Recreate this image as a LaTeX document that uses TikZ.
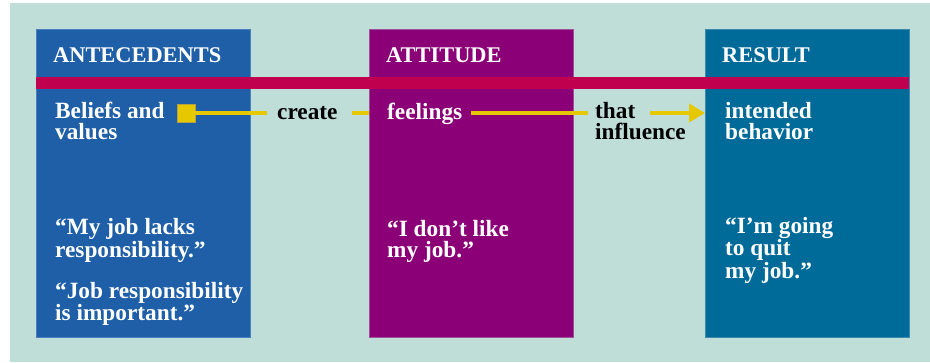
\documentclass[tikz,border=0pt]{standalone}
\usepackage{fontspec}
\setmainfont{Liberation Serif}
\usetikzlibrary{arrows.meta}
\definecolor{bg}{HTML}{C0DED8}
\definecolor{antec}{HTML}{1E5FA8}
\definecolor{antecedge}{HTML}{4A80C0}
\definecolor{attit}{HTML}{8C0077}
\definecolor{attitedge}{HTML}{A0509A}
\definecolor{resul}{HTML}{006A99}
\definecolor{resuledge}{HTML}{3A8AB0}
\definecolor{redbar}{HTML}{C0004E}
\definecolor{yel}{HTML}{E6C800}
\definecolor{yeledge}{HTML}{B8A040}
\begin{document}
\begin{tikzpicture}[x=1pt,y=-1pt,
  panel/.style={anchor=north west,inner sep=0,outer sep=0,minimum width=204pt,minimum height=308pt,line width=0.8pt},
  head/.style={anchor=base west,inner sep=0,text=white,font=\bfseries\fontsize{22.4}{24}\selectfont},
  body/.style={anchor=base west,inner sep=0,text=white,align=left,font=\bfseries\fontsize{23.3}{20.6}\selectfont},
  link/.style={anchor=base west,inner sep=0,text=black,align=left,font=\bfseries\fontsize{23.3}{20.6}\selectfont},
  conn/.style={draw=yel,line width=4pt}]
\useasboundingbox (0,0) rectangle (930,362);
\fill[bg] (10,3) rectangle (930,362);
% panels
\node[panel,minimum width=214.7pt,fill=antec,draw=antecedge] (ante) at (36,29) {};
\node[panel,fill=attit,draw=attitedge] (att) at (369,29) {};
\node[panel,fill=resul,draw=resuledge] (res) at (705,29) {};
% red bar
\fill[redbar] (36,77) rectangle (909,89);
% headers
\node[head] (h1) at (53,62) {ANTECEDENTS};
\node[head] (h2) at (386,62) {ATTITUDE};
\node[head] (h3) at (722,62) {RESULT};
% top row texts (base anchor = last line)
\node[body] (beliefs) at (55,139.5) {Beliefs and\\values};
\node[link] (create) at (277,119) {create};
\node[body] (feel) at (387,119) {feelings};
\node[link] (that) at (595,139.5) {that\\influence};
\node[body] (intend) at (725,139.5) {intended\\behavior};
% quotes
\node[body] (q1) at (55,257) {“My job lacks\\responsibility.”};
\node[body] (q2) at (55,320.5) {“Job responsibility\\is important.”};
\node[body] (q3) at (387,257) {“I don’t like\\my job.”};
\node[body] (q4) at (725,278) {“I’m going\\to quit\\my job.”};
% connectors
\node[draw=yeledge,fill=yel,line width=0.6pt,minimum size=18pt,inner sep=0] (sq) at (186,113) {};
\coordinate (lvl) at (0,113);
\draw[conn] (sq.east) -- ([xshift=-10pt]lvl -| create.west);
\draw[conn] ([xshift=14pt]lvl -| create.east) -- (lvl -| att.west);
\draw[conn] ([xshift=9pt]lvl -| feel.east) -- ([xshift=-7pt]lvl -| that.west);
\draw[conn,-{Triangle[length=16pt,width=18pt]}] ([xshift=55pt]lvl -| that.west) -- (lvl -| res.west);
\end{tikzpicture}
\end{document}
